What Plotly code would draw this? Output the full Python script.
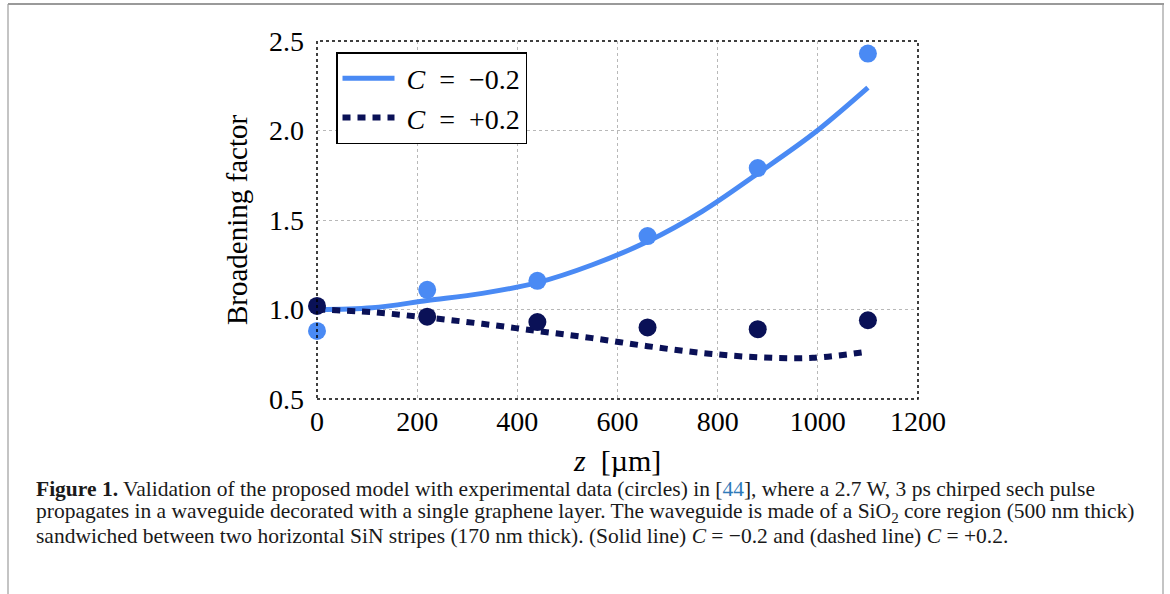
import plotly.graph_objects as go

# Experimental data (circles)
z_exp = [0, 220, 440, 660, 880, 1100]
exp_neg = [0.88, 1.11, 1.16, 1.41, 1.79, 2.43]
exp_pos = [1.02, 0.96, 0.93, 0.90, 0.89, 0.94]

# Model curves
z_model = [0, 110, 220, 330, 440, 550, 660, 770, 880, 990, 1100]
model_neg = [1.00, 1.01, 1.05, 1.09, 1.15, 1.25, 1.38, 1.55, 1.76, 1.98, 2.24]
model_pos = [1.00, 0.985, 0.955, 0.92, 0.88, 0.84, 0.795, 0.757, 0.733, 0.73, 0.765]

x_ticks = [0, 200, 400, 600, 800, 1000, 1200]
y_ticks = [0.5, 1.0, 1.5, 2.0, 2.5]

LIGHT = "#4a8af4"
NAVY = "#0a1157"
SERIF = "Liberation Serif"
SP = "\u2002"

fig = go.Figure()
fig.add_trace(go.Scatter(x=z_model, y=model_neg, mode="lines", line=dict(color=LIGHT, width=5, shape="spline"),
                         name=f" <i>C</i>{SP}={SP}−0.2", cliponaxis=False))
fig.add_trace(go.Scatter(x=z_model, y=model_pos, mode="lines", line=dict(color=NAVY, width=6, dash="8px,7px", shape="spline"),
                         name=f" <i>C</i>{SP}={SP}+0.2", cliponaxis=False))
fig.add_trace(go.Scatter(x=z_exp, y=exp_neg, mode="markers", marker=dict(color=LIGHT, size=18),
                         showlegend=False, cliponaxis=False))
fig.add_trace(go.Scatter(x=z_exp, y=exp_pos, mode="markers", marker=dict(color=NAVY, size=18),
                         showlegend=False, cliponaxis=False))

L, R, T, B = 317, 918, 41, 399
W, H = 1170, 594

def px_x(p):
    return (p - L) / (R - L)

def px_y(p):
    return (B - p) / (B - T)

fig.update_layout(
    width=W, height=H,
    margin=dict(l=L, r=W - R, t=T, b=H - B),
    paper_bgcolor="white", plot_bgcolor="white",
    font=dict(family=SERIF, size=26, color="black"),
    showlegend=True,
    legend=dict(x=px_x(336), y=px_y(52), xanchor="left", yanchor="top",
                bordercolor="black", borderwidth=1.5, bgcolor="white", itemwidth=52,
                font=dict(family=SERIF, size=28), tracegroupgap=0),
    xaxis=dict(range=[0, 1200], tickvals=x_ticks, ticktext=[str(v) for v in x_ticks],
               showgrid=True, gridcolor="#b8b8b8", griddash="dot", gridwidth=1,
               zeroline=False, showline=False, ticks="", ticklabelstandoff=3,
               tickfont=dict(family=SERIF, size=28)),
    yaxis=dict(range=[0.5, 2.5], tickvals=y_ticks, ticktext=[f"{v:.1f}" for v in y_ticks],
               showgrid=True, gridcolor="#b8b8b8", griddash="dot", gridwidth=1,
               zeroline=False, showline=False, ticks="", ticklabelstandoff=12,
               tickfont=dict(family=SERIF, size=28)),
)

shapes = [
    # dotted plot border
    dict(type="rect", xref="paper", yref="paper", x0=0, x1=1, y0=0, y1=1,
         line=dict(color="black", width=1.5, dash="dot"), layer="above"),
    # outer figure frame (open at bottom)
    dict(type="line", xref="paper", yref="paper", x0=px_x(8), x1=px_x(8), y0=px_y(4), y1=px_y(594),
         line=dict(color="#c4c4c4", width=2)),
    dict(type="line", xref="paper", yref="paper", x0=px_x(1163), x1=px_x(1163), y0=px_y(4), y1=px_y(594),
         line=dict(color="#c4c4c4", width=2)),
    dict(type="line", xref="paper", yref="paper", x0=px_x(8), x1=px_x(1164), y0=px_y(4), y1=px_y(4),
         line=dict(color="#9a9a9a", width=2)),
]
fig.update_layout(shapes=shapes)

annotations = [
    dict(text="Broadening factor", xref="paper", yref="paper", x=px_x(237), y=px_y(220),
         textangle=-90, showarrow=False, font=dict(family=SERIF, size=29), xanchor="center", yanchor="middle"),
    dict(text="<i>z</i>  [µm]", xref="paper", yref="paper", x=px_x(617), y=px_y(460),
         showarrow=False, font=dict(family=SERIF, size=30), xanchor="center", yanchor="middle"),
]
caption = [
    "<b>Figure 1.</b> Validation of the proposed model with experimental data (circles) in [<span style='color:#2f7ab9'>44</span>], where a 2.7 W, 3 ps chirped sech pulse",
    "propagates in a waveguide decorated with a single graphene layer. The waveguide is made of a SiO<sub>2</sub> core region (500 nm thick)",
    "sandwiched between two horizontal SiN stripes (170 nm thick). (Solid line) <i>C</i> = −0.2 and (dashed line) <i>C</i> = +0.2.",
]
for i, line in enumerate(caption):
    annotations.append(dict(text=line, xref="paper", yref="paper", x=px_x(34), y=px_y(489 + 23.5 * i),
                            showarrow=False, xanchor="left", yanchor="middle", align="left",
                            font=dict(family=SERIF, size=21.5, color="#1a1a1a")))
fig.update_layout(annotations=annotations)

fig.write_html("out.html", config={"displayModeBar": False},
               post_script="document.body.style.margin='0';")
